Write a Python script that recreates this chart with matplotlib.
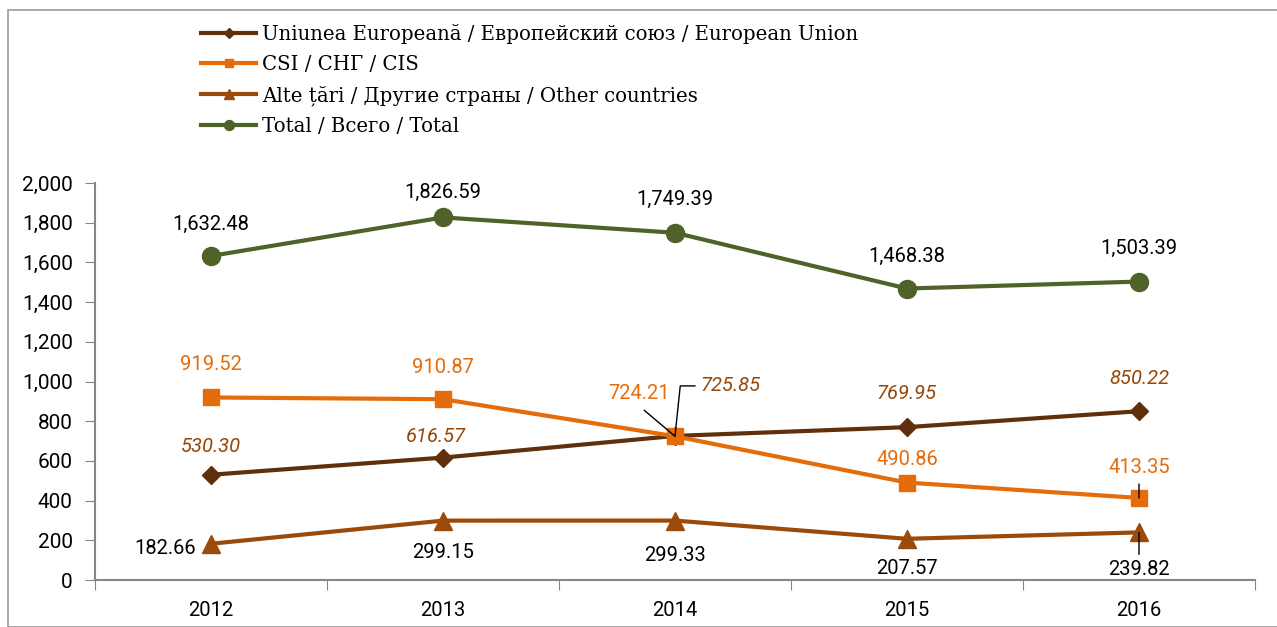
import matplotlib.pyplot as plt
from matplotlib.patches import Rectangle
from matplotlib.ticker import FuncFormatter

years = ['2012', '2013', '2014', '2015', '2016']
eu = [530.30, 616.57, 725.85, 769.95, 850.22]
cis = [919.52, 910.87, 724.21, 490.86, 413.35]
other = [182.66, 299.15, 299.33, 207.57, 239.82]
total = [1632.48, 1826.59, 1749.39, 1468.38, 1503.39]

labels = ['Uniunea Europeană / Европейский союз / European Union',
          'CSI / СНГ / CIS',
          'Alte țări / Другие страны / Other countries',
          'Total / Всего / Total']

c_eu = '#5f300b'
c_cis = '#e46c0a'
c_oth = '#9b4a0a'
c_tot = '#4f6228'
c_eu_lbl = '#974806'

sans = ['Roboto', 'DejaVu Sans']
serif = ['DejaVu Serif']

fig = plt.figure(figsize=(12.77, 6.27), dpi=100)
fig.patches.append(Rectangle((8 / 1277, 0), 1.2, 1 - 10 / 627, transform=fig.transFigure,
                             fill=False, edgecolor='#9a9a9a', linewidth=1.2))
ax = fig.add_axes([95 / 1277, 47 / 627, 1160 / 1277, 397 / 627])

x = range(len(years))
l1, = ax.plot(x, eu, color=c_eu, lw=3, marker='D', ms=9.5, label=labels[0])
l2, = ax.plot(x, cis, color=c_cis, lw=3, marker='s', ms=11, label=labels[1])
l3, = ax.plot(x, other, color=c_oth, lw=3, marker='^', ms=13, label=labels[2])
l4, = ax.plot(x, total, color=c_tot, lw=3, marker='o', ms=13, label=labels[3])

ax.set_xlim(-0.5, 4.5)
ax.set_ylim(0, 2000)
ax.set_yticks(range(0, 2001, 200))
ax.yaxis.set_major_formatter(FuncFormatter(lambda v, p: f'{v:,.0f}'))
ax.set_xticks([i - 0.5 for i in range(6)], minor=False)
ax.set_xticklabels([])
ax.set_xticks(list(x), minor=True)
ax.set_xticklabels(years, minor=True)
ax.tick_params(axis='x', which='major', length=7, color='#868686', direction='out')
ax.tick_params(axis='x', which='minor', length=0, pad=15, labelsize=14.5)
ax.tick_params(axis='y', length=7, color='#868686', labelsize=15, pad=9)
for lbl in ax.get_xticklabels(minor=True) + ax.get_yticklabels():
    lbl.set_family(sans)
for s in ['top', 'right']:
    ax.spines[s].set_visible(False)
for s in ['left', 'bottom']:
    ax.spines[s].set_color('#868686')
    ax.spines[s].set_linewidth(1.5)


def lab(i, v, text, dx, dy, color, italic=False, leader=None, conn='arc3'):
    kw = dict(xy=(i, v), xytext=(dx, dy), textcoords='offset pixels',
              ha='center', va='center', fontsize=14.5, color=color, family=sans,
              style='italic' if italic else 'normal')
    if leader:
        kw['arrowprops'] = dict(arrowstyle='-', color='black', lw=1, shrinkA=2, shrinkB=0,
                                relpos=leader, connectionstyle=conn)
    ax.annotate(text, **kw)


tot_off = [(0, 32), (0, 25), (0, 33), (0, 32), (0, 33)]
for i, v in enumerate(total):
    lab(i, v, f'{v:,.2f}', *tot_off[i], 'black')

cis_off = [(0, 33), (0, 32), (-36, 43), (0, 23), (0, 30)]
cis_lead = [None, None, (0.55, -0.3), None, (0.5, -0.2)]
for i, v in enumerate(cis):
    lab(i, v, f'{v:,.2f}', *cis_off[i], c_cis, leader=cis_lead[i])

eu_off = [(0, 28), (-7, 21), (56, 50), (0, 34), (0, 33)]
eu_lead = [None, None, (-0.05, 0.5), None, None]
for i, v in enumerate(eu):
    lab(i, v, f'{v:,.2f}', *eu_off[i], c_eu_lbl, italic=True, leader=eu_lead[i],
        conn='angle,angleA=180,angleB=84,rad=0')

oth_off = [(-46, -5), (0, -32), (0, -35), (0, -30), (0, -37)]
oth_lead = [None, None, None, None, (0.5, 1.1)]
for i, v in enumerate(other):
    lab(i, v, f'{v:,.2f}', *oth_off[i], 'black', leader=oth_lead[i])

fig.legend(handles=[l1, l2, l3, l4], loc='upper left', bbox_to_anchor=(193 / 1277, 1 - 16 / 627),
           frameon=False, prop={'family': serif, 'size': 14.2}, handlelength=2.8,
           handletextpad=0.3, labelspacing=0.56, borderaxespad=0, markerscale=0.55)

fig.savefig('out.png', dpi=100)
